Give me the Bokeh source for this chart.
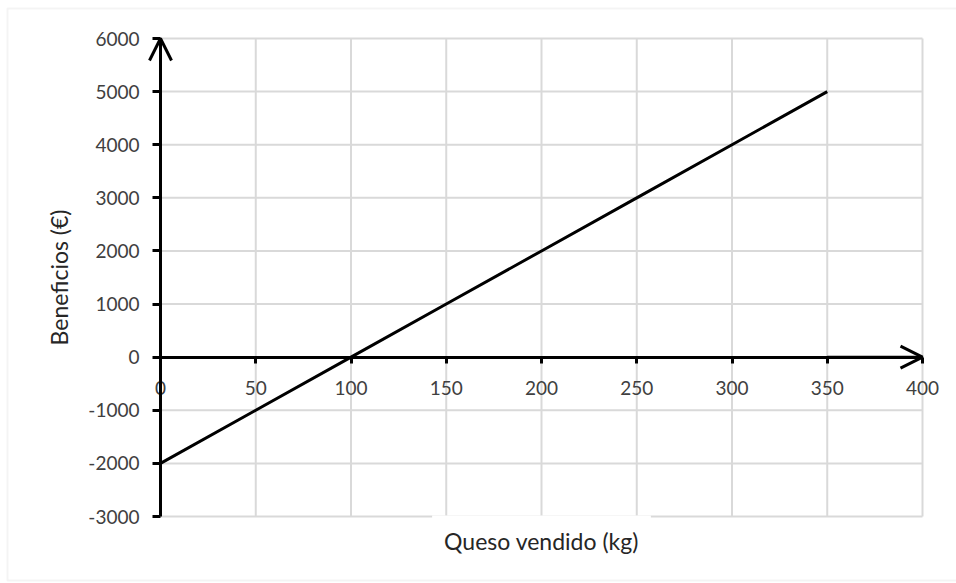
from bokeh.plotting import figure
from bokeh.models import (Range1d, FixedTicker, Arrow, OpenHead, Label, BoxAnnotation,
                          PrintfTickFormatter)
from bokeh.embed import file_html
from bokeh.resources import INLINE

# ---- data ----
queso_kg = [0, 50, 100, 150, 200, 250, 300, 350]
beneficios = [-2000, -1000, 0, 1000, 2000, 3000, 4000, 5000]
x_ticks = [0, 50, 100, 150, 200, 250, 300, 350, 400]
y_ticks = [-3000, -2000, -1000, 0, 1000, 2000, 3000, 4000, 5000, 6000]
x_title = "Queso vendido (kg)"
y_title = "Beneficios (€)"

FONT = "Lato"
TICK_COLOR = "#404040"
TITLE_COLOR = "#262626"
GRID = "#d9d9d9"

# ---- layout: the frame covers the whole canvas, the plot area sits inside ----
W, H = 956, 583
PX_LEFT, PX_RIGHT = 160, 922      # canvas x of x_ticks[0] / x_ticks[-1]
PX_TOP, PX_BOTTOM = 38, 516       # canvas y of y_ticks[-1] / y_ticks[0]
x0, x1 = x_ticks[0], x_ticks[-1]
y0, y1 = y_ticks[0], y_ticks[-1]
sx = (PX_RIGHT - PX_LEFT) / (x1 - x0)
sy = (PX_BOTTOM - PX_TOP) / (y1 - y0)
x_range = Range1d(x0 - PX_LEFT / sx, x1 + (W - PX_RIGHT) / sx)
y_range = Range1d(y0 - (H - PX_BOTTOM) / sy, y1 + PX_TOP / sy)

p = figure(width=W, height=H, output_backend="svg", toolbar_location=None,
           x_range=x_range, y_range=y_range,
           min_border_left=0, min_border_right=0, min_border_top=0, min_border_bottom=0)
p.outline_line_color = None
p.background_fill_color = "white"
p.border_fill_color = "white"
p.grid.visible = False

# grid lines limited to the plot area
p.segment(x0=x_ticks, y0=[y0] * len(x_ticks), x1=x_ticks, y1=[y1] * len(x_ticks),
          line_color=GRID, line_width=2)
p.segment(x0=[x0] * len(y_ticks), y0=y_ticks, x1=[x1] * len(y_ticks), y1=y_ticks,
          line_color=GRID, line_width=2)

# y axis at x = 0
ya = p.yaxis[0]
ya.fixed_location = 0
ya.bounds = (y0, y1)
ya.ticker = FixedTicker(ticks=y_ticks)
ya.formatter = PrintfTickFormatter(format="%d")
ya.axis_line_width = 3
ya.axis_line_color = "black"
ya.major_tick_line_width = 3
ya.major_tick_line_color = "black"
ya.major_tick_in = 0
ya.major_tick_out = 8
ya.minor_tick_line_color = None
ya.major_label_standoff = 13
ya.major_label_text_font = FONT
ya.major_label_text_font_size = "19px"
ya.major_label_text_color = TICK_COLOR
ya.axis_label = y_title
ya.axis_label_text_font = FONT
ya.axis_label_text_font_size = "23px"
ya.axis_label_text_font_style = "normal"
ya.axis_label_text_color = TITLE_COLOR
ya.axis_label_standoff = 12

# x axis crossing at y = 0
xa = p.xaxis[0]
xa.fixed_location = 0
xa.bounds = (x0, x1)
xa.ticker = FixedTicker(ticks=x_ticks)
xa.formatter = PrintfTickFormatter(format="%d")
xa.axis_line_width = 3
xa.axis_line_color = "black"
xa.major_tick_line_width = 3
xa.major_tick_line_color = "black"
xa.major_tick_in = 0
xa.major_tick_out = 6
xa.minor_tick_line_color = None
xa.major_label_standoff = 18
xa.major_label_text_font = FONT
xa.major_label_text_font_size = "19px"
xa.major_label_text_color = TICK_COLOR

# data line
p.line(queso_kg, beneficios, line_width=3, line_color="black")

# arrow heads on the axes
p.add_layout(Arrow(end=OpenHead(size=22, line_width=3, line_color="black"),
                   x_start=0, y_start=y_ticks[-2], x_end=0, y_end=y1,
                   line_width=3, line_color="black"))
p.add_layout(Arrow(end=OpenHead(size=22, line_width=3, line_color="black"),
                   x_start=x_ticks[-2], y_start=0, x_end=x1, y_end=0,
                   line_width=3, line_color="black"))

# x axis title in a white box below the plot area
p.add_layout(Label(x=200, y=-3470, text=x_title, text_align="center", text_baseline="middle",
                   text_font=FONT, text_font_size="23px", text_color=TITLE_COLOR,
                   background_fill_color="white", padding=12))

# outer chart border
p.add_layout(BoxAnnotation(left=7, right=2000, top=8, bottom=580,
                           left_units="canvas", right_units="canvas",
                           top_units="canvas", bottom_units="canvas",
                           fill_color=None, line_color=GRID, line_width=2))

open("out.html", "w").write(file_html(p, INLINE))
